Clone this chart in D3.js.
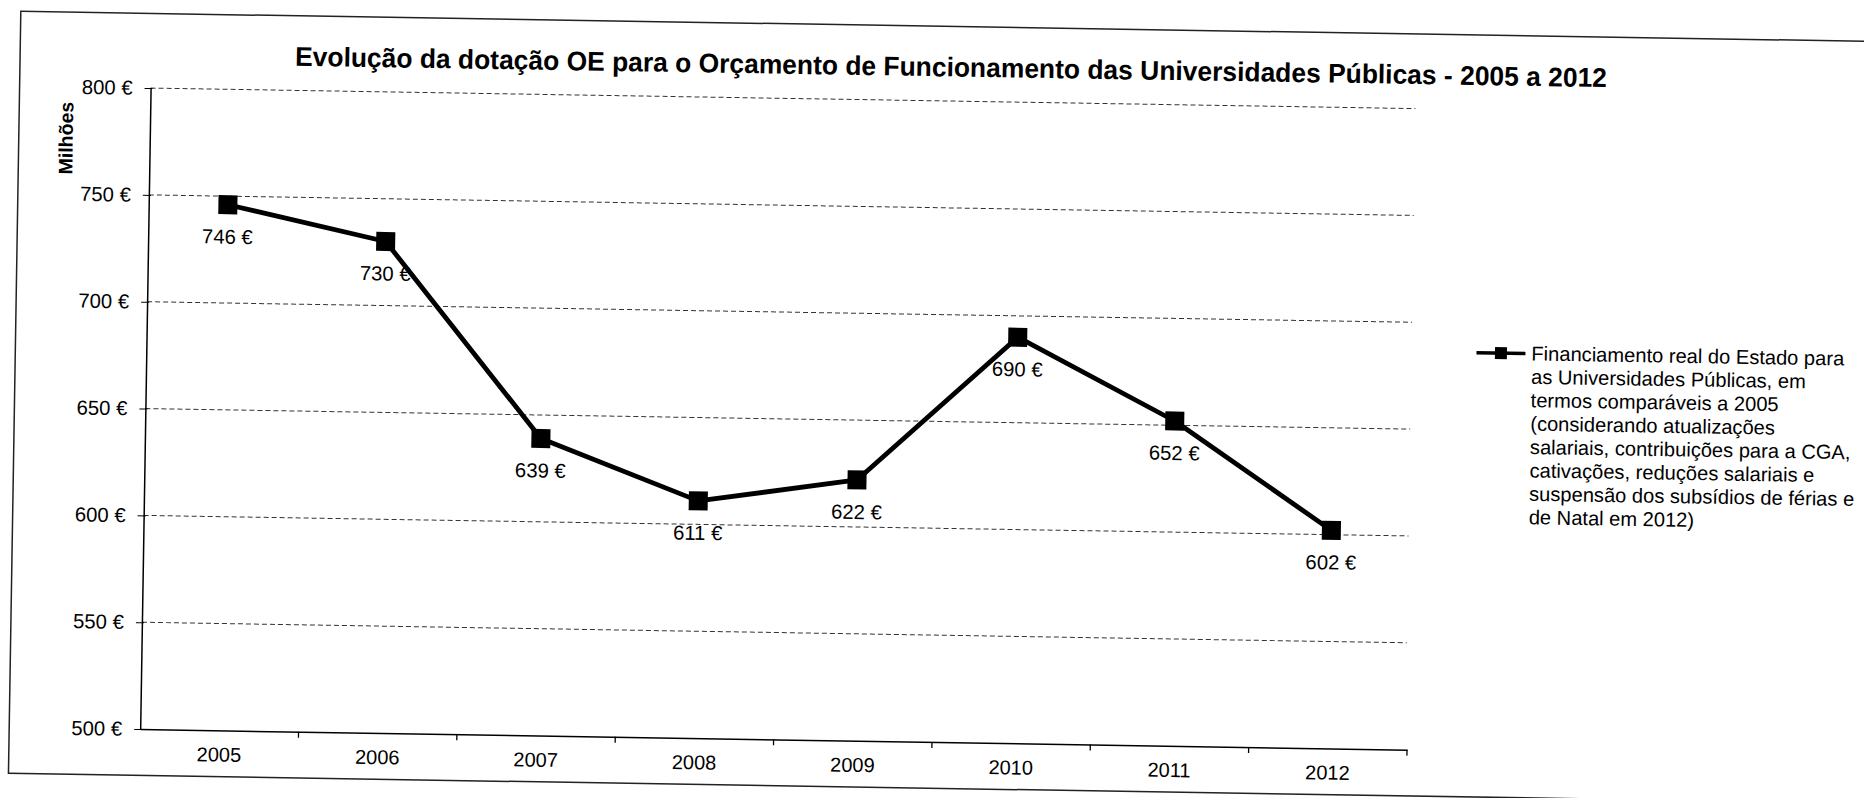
<!DOCTYPE html>
<html>
<head>
<meta charset="utf-8">
<script src="https://cdn.jsdelivr.net/npm/d3@7/dist/d3.min.js"></script>
<style>
	body { margin: 0; background: #fff; }
	text { font-family: "Liberation Sans", Arial, sans-serif; fill: #000; }
</style>
</head>
<body>
<div id="chart"></div>
<script>
// data
var years = ['2005', '2006', '2007', '2008', '2009', '2010', '2011', '2012'];
var values = [746, 730, 639, 611, 622, 690, 652, 602];
var yTicks = [500, 550, 600, 650, 700, 750, 800];
var title = 'Evolução da dotação OE para o Orçamento de Funcionamento das Universidades Públicas - 2005 a 2012';
var yLabel = 'Milhões';
var legendLines = [
	'Financiamento real do Estado para',
	'as Universidades Públicas, em',
	'termos comparáveis a 2005',
	'(considerando atualizações',
	'salariais, contribuições para a CGA,',
	'cativações, reduções salariais e',
	'suspensão dos subsídios de férias e',
	'de Natal em 2012)'
];

var width = 1864, height = 798;
// the scan sits slightly tilted
var tilt = 0.93;
var plotLeft = 152, plotRight = 1419, plotTop = 85.6, plotBottom = 726.7;

var svg = d3.select('#chart')
            .append('svg')
            .attr('width', width)
            .attr('height', height);

var page = svg.append('g').attr('transform', 'rotate(' + tilt + ')');

// outer frame of the chart area
page.append('rect')
    .attr('x', 21).attr('y', 11)
    .attr('width', 1950).attr('height', 762)
    .attr('fill', 'none')
    .attr('stroke', '#222')
    .attr('stroke-width', 1.5);

var x = d3.scaleBand().domain(years).range([plotLeft, plotRight]);
var y = d3.scaleLinear().domain([500, 800]).range([plotBottom, plotTop]);

// dashed gridlines
page.selectAll('line.grid')
    .data(yTicks.filter(function (d) { return d > 500; }))
    .enter()
    .append('line')
    .attr('class', 'grid')
    .attr('x1', plotLeft).attr('x2', plotRight - 2)
    .attr('y1', function (d) { return y(d); })
    .attr('y2', function (d) { return y(d); })
    .attr('stroke', '#333')
    .attr('stroke-width', 1)
    .attr('stroke-dasharray', '5,3');

// y axis
var yAxis = page.append('g')
                .attr('transform', 'translate(' + plotLeft + ',0)')
                .call(d3.axisLeft(y)
                        .tickValues(yTicks)
                        .tickFormat(function (d) { return d + ' €'; })
                        .tickSize(6)
                        .tickSizeOuter(0)
                        .tickPadding(12));
yAxis.selectAll('text').style('font-size', '20.3px');
yAxis.selectAll('line').attr('stroke', '#000').attr('x2', -6).attr('x1', 2);
yAxis.select('.domain').attr('stroke', '#000').attr('stroke-width', 1.5);

// x axis: labels centred in each band, ticks between categories
var xAxis = page.append('g')
                .attr('transform', 'translate(0,' + plotBottom + ')')
                .call(d3.axisBottom(x).tickSize(0).tickSizeOuter(0).tickPadding(17));
xAxis.selectAll('text').style('font-size', '20px');
xAxis.select('.domain').attr('stroke', '#000').attr('stroke-width', 1.5);

page.selectAll('line.xtick')
    .data(years.slice(1).concat(['end']))
    .enter()
    .append('line')
    .attr('class', 'xtick')
    .attr('x1', function (d) { return d === 'end' ? plotRight : x(d); })
    .attr('x2', function (d) { return d === 'end' ? plotRight : x(d); })
    .attr('y1', plotBottom).attr('y2', plotBottom + 6)
    .attr('stroke', '#000')
    .attr('stroke-width', 1.3);

// axis title
page.append('text')
    .attr('transform', 'translate(75,137) rotate(-90)')
    .attr('text-anchor', 'middle')
    .style('font-size', '19.5px')
    .style('font-weight', 'bold')
    .text(yLabel);

// chart title
page.append('text')
    .attr('x', 952).attr('y', 61)
    .attr('text-anchor', 'middle')
    .attr('textLength', 1312)
    .attr('lengthAdjust', 'spacingAndGlyphs')
    .style('font-size', '27px')
    .style('font-weight', 'bold')
    .text(title);

var points = years.map(function (yr, i) { return { year: yr, value: values[i] }; });
var cx = function (d) { return x(d.year) + x.bandwidth() / 2; };

var line = d3.line()
             .x(cx)
             .y(function (d) { return y(d.value); });

page.append('path')
    .datum(points)
    .attr('d', line)
    .attr('fill', 'none')
    .attr('stroke', '#000')
    .attr('stroke-width', 4.8)
    .attr('stroke-linejoin', 'round');

var size = 19;
page.selectAll('rect.marker')
    .data(points)
    .enter()
    .append('rect')
    .attr('class', 'marker')
    .attr('x', function (d) { return cx(d) - size / 2; })
    .attr('y', function (d) { return y(d.value) - size / 2; })
    .attr('width', size).attr('height', size)
    .attr('fill', '#000');

page.selectAll('text.value')
    .data(points)
    .enter()
    .append('text')
    .attr('class', 'value')
    .attr('x', cx)
    .attr('y', function (d) { return y(d.value) + 39; })
    .attr('text-anchor', 'middle')
    .style('font-size', '20.3px')
    .text(function (d) { return d.value + ' €'; });

// legend
var legend = page.append('g').attr('transform', 'translate(1482,328.7)');
legend.append('line')
      .attr('x1', 0).attr('x2', 49)
      .attr('y1', 0).attr('y2', 0)
      .attr('stroke', '#000')
      .attr('stroke-width', 3.5);
legend.append('rect')
      .attr('x', 18.5).attr('y', -6)
      .attr('width', 12).attr('height', 12)
      .attr('fill', '#000');
legend.selectAll('text')
      .data(legendLines)
      .enter()
      .append('text')
      .attr('x', 55)
      .attr('y', function (d, i) { return 6.8 + i * 23.4; })
      .style('font-size', '20.1px')
      .text(function (d) { return d; });
</script>
</body>
</html>
